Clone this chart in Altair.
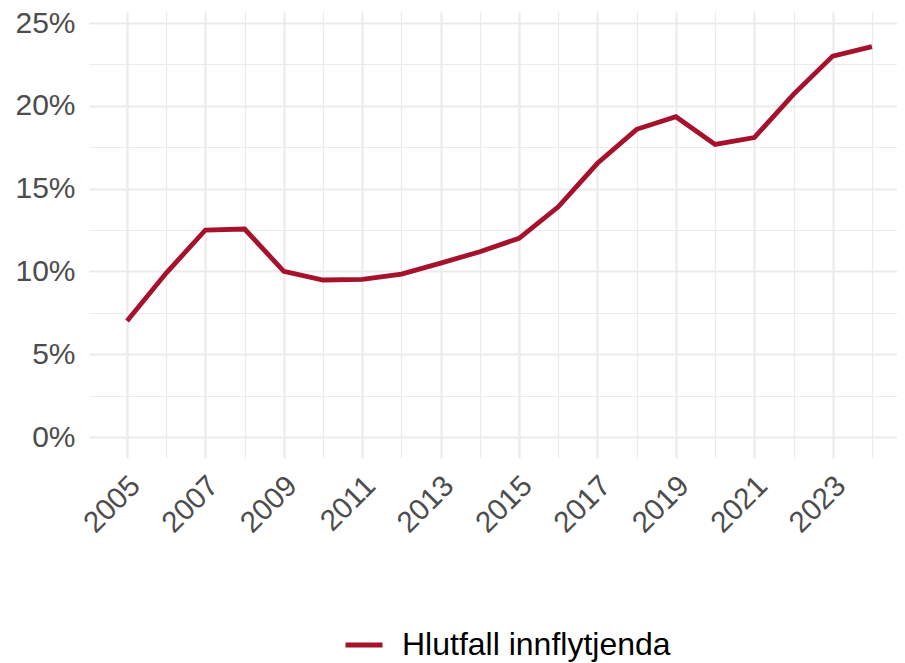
import altair as alt
import pandas as pd

years = list(range(2005, 2025))
share = [0.070, 0.099, 0.125, 0.1256, 0.100, 0.0948, 0.0952, 0.0984, 0.105, 0.1119,
         0.120, 0.139, 0.1653, 0.1858, 0.1934, 0.1767, 0.1808, 0.2069, 0.230, 0.2357]
series_name = "Hlutfall innflytjenda"

x_major = list(range(2005, 2024, 2))
x_minor = list(range(2006, 2025, 2))
y_major = [0.0, 0.05, 0.10, 0.15, 0.20, 0.25]
y_minor = [0.025, 0.075, 0.125, 0.175, 0.225]

df = pd.DataFrame({"year": years, "share": share, "series": [series_name] * len(years)})

FONT = "Liberation Sans"
GRID = "#EBEBEB"
LINE_COLOR = "#A6112B"

x_scale = alt.Scale(domain=[2004.03, 2024.64], nice=False, zero=False)
y_scale = alt.Scale(domain=[-0.01268, 0.25665], nice=False, zero=False)

main = alt.Chart(df).mark_line(strokeWidth=4.8, strokeCap="butt").encode(
    x=alt.X("year:Q", scale=x_scale, axis=alt.Axis(
        values=x_major, format="d", title=None, ticks=False, domain=False,
        grid=True, gridColor=GRID, gridWidth=2.2,
        labelAngle=-45, labelAlign="right", labelBaseline="top",
        labelPadding=13, labelOffset=-2, labelFont=FONT, labelFontSize=29.5,
        labelColor="#4D4D4D", labelOverlap=False, labelFlush=False)),
    y=alt.Y("share:Q", scale=y_scale, axis=alt.Axis(
        values=y_major, format=".0%", title=None, ticks=False, domain=False,
        grid=True, gridColor=GRID, gridWidth=2.2,
        labelPadding=14, labelFont=FONT, labelFontSize=30,
        labelColor="#4D4D4D", labelOverlap=False, labelFlush=False)),
    color=alt.Color("series:N", scale=alt.Scale(domain=[series_name], range=[LINE_COLOR]),
                    legend=alt.Legend(orient="none", legendX=254, legendY=612, title=None,
                                      symbolType="stroke", symbolStrokeWidth=5, symbolSize=1369,
                                      labelFont=FONT, labelFontSize=32, labelColor="black",
                                      labelOffset=17, labelLimit=0, padding=0)),
)

minor = alt.Chart(df).mark_line(opacity=0).encode(
    x=alt.X("year:Q", scale=x_scale, axis=alt.Axis(
        orient="top", values=x_minor, labels=False, ticks=False, domain=False, title=None,
        grid=True, gridColor=GRID, gridWidth=1.2)),
    y=alt.Y("share:Q", scale=y_scale, axis=alt.Axis(
        orient="right", values=y_minor, labels=False, ticks=False, domain=False, title=None,
        grid=True, gridColor=GRID, gridWidth=1.2)),
)

chart = alt.layer(minor, main).resolve_axis(x="independent", y="independent").properties(
    width=808, height=446,
    autosize=alt.AutoSizeParams(type="none"),
    padding={"left": 81, "top": 4, "right": 0, "bottom": 205},
    background="white",
).configure_view(stroke=None)

chart.save("out.html", embed_options={"renderer": "svg", "actions": False})
